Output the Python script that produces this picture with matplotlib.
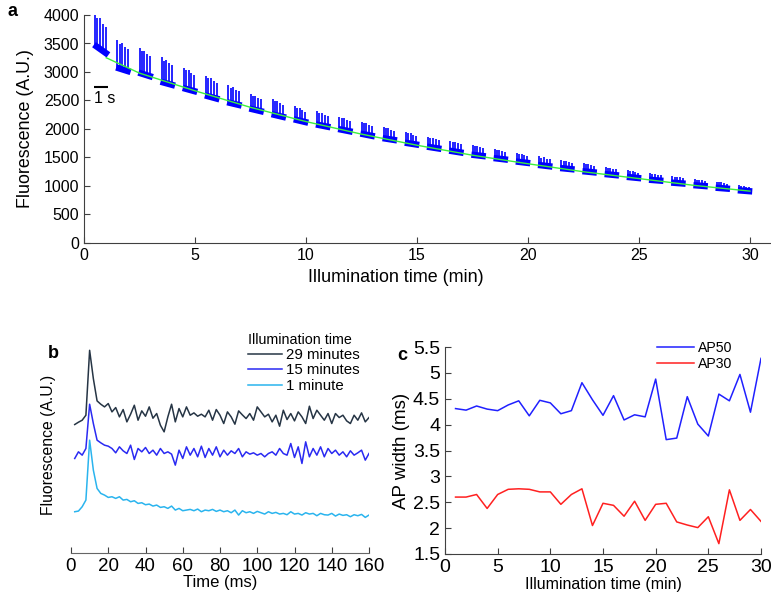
import numpy as np
import matplotlib
matplotlib.use("Agg")
import matplotlib.pyplot as plt
from matplotlib.ticker import FuncFormatter

plt.rcParams["font.family"] = ["Liberation Sans", "DejaVu Sans"]
plt.rcParams["font.size"] = 11.3

# ---- Panel a: bursts of spikes over 30 min of illumination ----
burst_start = np.arange(0.45, 30, 1.0)          # min
burst_width = 0.65
level_start = [3480, 3080, 2990, 2830, 2720, 2590, 2470, 2360, 2260, 2170,
               2080, 2000, 1920, 1840, 1760, 1690, 1620, 1550, 1490, 1430,
               1370, 1315, 1260, 1210, 1160, 1110, 1060, 1015, 970, 925]
level_end = [3300, 3000, 2910, 2760, 2650, 2520, 2410, 2300, 2200, 2110,
             2030, 1950, 1870, 1800, 1720, 1650, 1580, 1520, 1460, 1400,
             1340, 1290, 1235, 1185, 1135, 1090, 1040, 995, 950, 905]
spike_height = [560, 480, 440, 430, 360, 350, 300, 260, 270, 230,
                240, 220, 210, 200, 190, 180, 180, 170, 160, 160,
                150, 140, 140, 130, 120, 120, 120, 110, 110, 90]
spike_pos = [0.08, 0.24, 0.40, 0.60, 0.80]      # fraction of burst
spike_scale = [1.0, 0.9, 0.95, 0.85, 0.8]

fit_t = [1.0, 2.5, 5, 7.5, 10, 12.5, 15, 17.5, 20, 22.5, 25, 27.5, 30]
fit_y = [3250, 2980, 2670, 2380, 2130, 1910, 1715, 1540, 1390, 1250, 1130, 1010, 910]

# ---- Panel b: single AP traces (2 ms samples) ----
t_ms = np.arange(2, 161, 2)
trace_29 = [417, 424, 430, 445, 640, 555, 488, 478, 470, 480,
            455, 468, 440, 462, 425, 448, 475, 430, 458, 442,
            470, 436, 450, 415, 395, 440, 478, 425, 465, 440,
            470, 445, 452, 442, 448, 440, 460, 430, 462, 445,
            420, 455, 440, 418, 458, 446, 435, 450, 430, 470,
            455, 440, 448, 425, 445, 412, 460, 432, 450, 428,
            455, 440, 420, 472, 435, 460, 445, 430, 450, 420,
            450, 438, 445, 428, 420, 445, 430, 452, 425, 438]
trace_15 = [315, 335, 325, 345, 478, 420, 370, 362, 355, 352,
            345, 332, 350, 338, 330, 355, 312, 345, 335, 348,
            330, 340, 325, 345, 330, 335, 328, 295, 340, 315,
            350, 325, 345, 320, 352, 318, 345, 325, 350, 320,
            340, 325, 338, 330, 345, 320, 335, 328, 332, 325,
            330, 320, 330, 335, 325, 345, 330, 325, 360, 318,
            350, 300, 365, 320, 345, 325, 350, 320, 345, 330,
            340, 325, 335, 320, 338, 325, 332, 340, 310, 330]
trace_1 = [155, 157, 170, 190, 370, 280, 225, 210, 205, 198,
           200, 195, 200, 190, 192, 185, 188, 180, 182, 176,
           178, 172, 175, 168, 170, 165, 172, 160, 165, 158,
           160, 162, 158, 163, 155, 160, 158, 162, 156, 160,
           155, 158, 152, 160, 145, 158, 152, 155, 150, 156,
           152, 148, 155, 150, 153, 148, 150, 146, 155, 148,
           150, 145, 152, 148, 150, 143, 150, 146, 145, 150,
           142, 148, 144, 146, 140, 146, 143, 147, 138, 145]
trace_labels = ["29 minutes", "15 minutes", "1 minute"]
trace_colors = ["#263545", "#2a2af2", "#2ab4ee"]

# ---- Panel c: AP width vs illumination time ----
illum_min = np.arange(1, 31)
ap50 = [4.31, 4.28, 4.36, 4.30, 4.27, 4.38, 4.46, 4.17, 4.47, 4.42,
        4.21, 4.27, 4.81, 4.48, 4.18, 4.56, 4.09, 4.19, 4.15, 4.88,
        3.71, 3.74, 4.54, 4.01, 3.78, 4.59, 4.46, 4.97, 4.24, 5.28]
ap30 = [2.60, 2.60, 2.65, 2.38, 2.65, 2.75, 2.76, 2.75, 2.70, 2.70,
        2.46, 2.65, 2.76, 2.05, 2.48, 2.44, 2.23, 2.52, 2.15, 2.46,
        2.48, 2.12, 2.06, 2.01, 2.22, 1.70, 2.74, 2.15, 2.36, 2.13]

SPINE = "#404040"


def style_axes(ax, tick_fs):
    for s in ["top", "right"]:
        ax.spines[s].set_visible(False)
    for s in ["left", "bottom"]:
        ax.spines[s].set_color(SPINE)
    ax.tick_params(direction="in", length=4, color=SPINE, labelcolor="black",
                   labelsize=tick_fs)


W, H = 771, 596
fig = plt.figure(figsize=(W / 100, H / 100), dpi=100)

def box(l, t, r, b):
    return [l / W, 1 - b / H, (r - l) / W, (b - t) / H]

# a
ax1 = fig.add_axes(box(84, 15, 770, 243))
for i, x0 in enumerate(burst_start):
    ax1.plot([x0, x0 + burst_width], [level_start[i], level_end[i]],
             color="blue", lw=4.6, solid_capstyle="butt")
    for p, sc in zip(spike_pos, spike_scale):
        xs = x0 + p * burst_width
        base = level_start[i] + p * (level_end[i] - level_start[i])
        ax1.vlines(xs, base, base + spike_height[i] * sc, color="blue", lw=1.2)
ax1.plot(fit_t, fit_y, color="#3cf03c", lw=1.0, zorder=3)
ax1.hlines(2740, 0.45, 1.1, color="black", lw=1.5)
ax1.text(0.45, 2660, "1 s", ha="left", va="top", fontsize=11.5)
ax1.set_xlim(0, 30.9)
ax1.set_ylim(0, 4000)
ax1.set_xticks(np.arange(0, 31, 5))
ax1.set_yticks(np.arange(0, 4001, 500))
ax1.set_xlabel("Illumination time (min)", fontsize=12.9)
ax1.xaxis.set_label_coords(0.455, -0.115)
ax1.set_ylabel("Fluorescence (A.U.)", fontsize=12.9, labelpad=7)
style_axes(ax1, 11.5)

# b
ax2 = fig.add_axes(box(71, 337, 369, 553))
for tr, lab, col in zip([trace_29, trace_15, trace_1], trace_labels, trace_colors):
    ax2.plot(t_ms, tr, color=col, lw=1.1, label=lab)
ax2.set_xlim(0, 160)
ax2.set_ylim(31, 680)
ax2.set_xticks(np.arange(0, 161, 20))
ax2.set_yticks([])
ax2.spines["left"].set_visible(False)
ax2.set_xlabel("Time (ms)", fontsize=12, labelpad=0)
ax2.set_ylabel("Fluorescence (A.U.)", fontsize=11.3, labelpad=11)
style_axes(ax2, 13.5)
ax2.spines["bottom"].set_color("#666666")
ax2.legend(loc="upper left", bbox_to_anchor=(240 / W, 1 - 325 / H),
           bbox_transform=fig.transFigure, frameon=False, fontsize=10.8,
           handlelength=2.3, handletextpad=0.3, labelspacing=0.1,
           borderpad=0.0, title="Illumination time",
           title_fontsize=10.3, alignment="left")

# c
ax3 = fig.add_axes(box(445, 347, 761, 554))
ax3.plot(illum_min, ap50, color="#2020ff", lw=1.1, label="AP50")
ax3.plot(illum_min, ap30, color="#ff2020", lw=1.1, label="AP30")
ax3.set_xlim(0, 30)
ax3.set_ylim(1.5, 5.5)
ax3.set_xticks(np.arange(0, 31, 5))
ax3.set_yticks(np.arange(1.5, 5.51, 0.5))
ax3.yaxis.set_major_formatter(FuncFormatter(lambda v, p: f"{v:g}"))
ax3.set_xlabel("Illumination time (min)", fontsize=11.5, labelpad=1)
ax3.set_ylabel("AP width (ms)", fontsize=13.5, labelpad=2)
style_axes(ax3, 14)
ax3.legend(loc="upper left", bbox_to_anchor=(650 / W, 1 - 334 / H),
           bbox_transform=fig.transFigure, frameon=False, fontsize=10.2,
           handlelength=2.6, handletextpad=0.3, labelspacing=0.1, borderpad=0.0)

fig.text(8 / W, 1 - 12 / H, "a", fontsize=13, fontweight="bold", va="center")
fig.text(48 / W, 1 - 354 / H, "b", fontsize=13, fontweight="bold", va="center")
fig.text(397 / W, 1 - 356 / H, "c", fontsize=13, fontweight="bold", va="center")

fig.savefig("out.png", dpi=100)
